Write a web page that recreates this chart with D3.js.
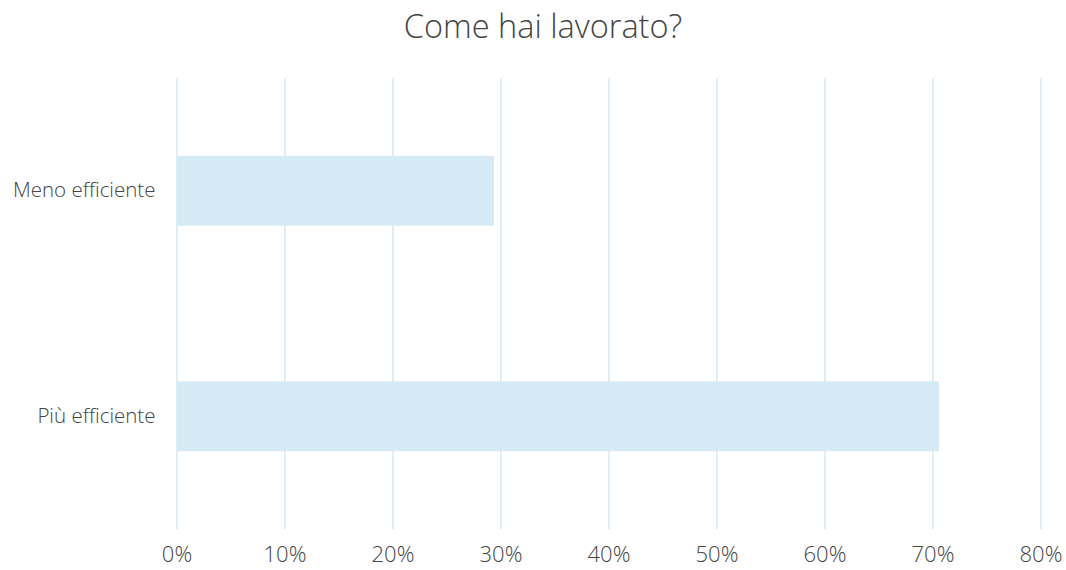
<!DOCTYPE html>
<html>
<head>
<meta charset="utf-8">
<script src="https://cdn.jsdelivr.net/npm/d3@7"></script>
<style>
  body { margin: 0; background: #fff; }
  text { font-family: "Open Sans", "Lato", sans-serif; font-weight: 300; fill: #444; }
</style>
</head>
<body>
<svg id="chart"></svg>
<script>
// data
var categories = ["Meno efficiente", "Più efficiente"];
var values = [29.4, 70.6];
var tickValues = [0, 10, 20, 30, 40, 50, 60, 70, 80];

var W = 1066, H = 570;
var margin = {top: 78, right: 26, bottom: 41, left: 176.5},
    width = W - margin.left - margin.right,
    height = H - margin.top - margin.bottom;

var svg = d3.select("#chart")
    .attr("width", W)
    .attr("height", H);

// title
svg.append("text")
    .attr("x", 543)
    .attr("y", 38)
    .attr("text-anchor", "middle")
    .style("font-size", "32.5px")
    .text("Come hai lavorato?");

var g = svg.append("g")
    .attr("transform", "translate(" + margin.left + "," + margin.top + ")");

var x = d3.scaleLinear()
    .domain([0, 80])
    .range([0, 864]);

var y = d3.scaleBand()
    .domain(categories)
    .range([0, height])
    .paddingInner(0.69)
    .paddingOuter(0.345);

// gridlines
var gridlines = d3.axisBottom(x)
    .tickValues(tickValues)
    .tickFormat("")
    .tickSize(height);

g.append("g")
    .attr("class", "grid")
    .call(gridlines)
    .call(function(s) {
        s.select(".domain").remove();
        s.selectAll("line").attr("stroke", "#e1eef7").attr("stroke-width", 2);
    });

// bars
g.selectAll("rect.bar")
    .data(values)
    .enter()
    .append("rect")
        .attr("class", "bar")
        .attr("x", x(0))
        .attr("y", function(d, i) { return y(categories[i]); })
        .attr("width", function(d) { return x(d) - x(0); })
        .attr("height", y.bandwidth())
        .attr("fill", "#d5eaf5");

// x axis labels
g.append("g")
    .attr("transform", "translate(0," + height + ")")
    .call(d3.axisBottom(x).tickValues(tickValues).tickSize(0).tickPadding(17)
        .tickFormat(function(d) { return d + "%"; }))
    .call(function(s) {
        s.select(".domain").remove();
        s.selectAll("text").style("font-size", "22px").attr("font-family", null);
    });

// y axis labels
g.append("g")
    .call(d3.axisLeft(y).tickSize(0).tickPadding(21))
    .call(function(s) {
        s.select(".domain").remove();
        s.selectAll("text").style("font-size", "20.5px").attr("font-family", null);
    });
</script>
</body>
</html>
